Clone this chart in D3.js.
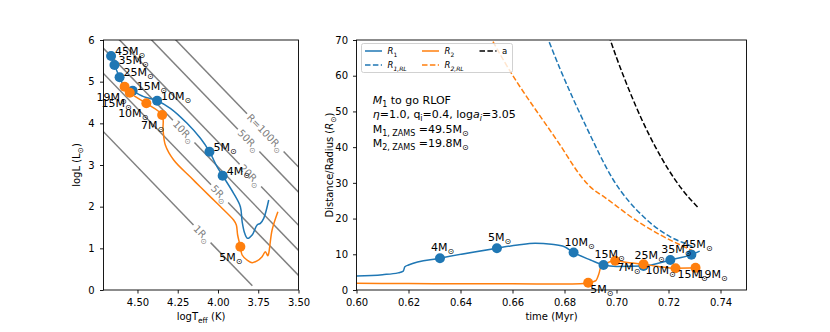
<!DOCTYPE html>
<html>
<head>
<meta charset="utf-8">
<script src="https://cdn.jsdelivr.net/npm/d3@7"></script>
<style>
  body { margin: 0; background: #fff; }
  text { font-family: "DejaVu Sans", sans-serif; }
</style>
</head>
<body>
<svg id="fig" width="830" height="332"></svg>
<script>
// ---- HR diagram data (logTeff, logL) ----
const hrTicksX = [4.5, 4.25, 4.0, 3.75, 3.5];
const hrTicksY = [0, 1, 2, 3, 4, 5, 6];
const radii = [1, 5, 10, 20, 50, 100];
const radiusLabels = ["1R", "5R", "10R", "20R", "50R", "R=100R"];
const radiusLabelT = [4.099, 3.99, 4.213, 3.799, 3.81, 3.706];

const primaryTrackHR = [
  [4.664, 5.616], [4.643, 5.40], [4.611, 5.105], [4.586, 4.92], [4.530, 4.78],
  [4.462, 4.64], [4.378, 4.543], [4.296, 4.36], [4.192, 4.0], [4.109, 3.64],
  [4.053, 3.32], [4.006, 2.96], [3.971, 2.744], [3.903, 2.32], [3.861, 2.0],
  [3.850, 1.64], [3.834, 1.36], [3.816, 1.24], [3.788, 1.32], [3.757, 1.56],
  [3.737, 1.60], [3.716, 1.72], [3.685, 2.16]
];
const secondaryTrackHR = [
  [4.580, 4.88], [4.548, 4.735], [4.445, 4.48], [4.347, 4.20], [4.341, 3.84],
  [4.327, 3.48], [4.275, 3.12], [4.171, 2.71], [4.109, 2.47], [4.006, 2.08],
  [3.903, 1.68], [3.886, 1.56], [3.878, 1.32], [3.861, 1.04], [3.850, 0.84],
  [3.820, 0.72], [3.788, 0.655], [3.757, 0.70], [3.726, 0.80], [3.706, 0.92],
  [3.691, 0.82], [3.685, 0.88], [3.664, 1.44], [3.628, 1.88]
];
const primaryMarkMasses = [45, 35, 25, 15, 10, 5, 4];
const primaryMarkT = [4.664, 4.643, 4.611, 4.530, 4.378, 4.053, 3.971];
const primaryMarkL = [5.616, 5.40, 5.105, 4.78, 4.543, 3.32, 2.744];
const secondaryMarkMasses = [19, 15, 10, 7, 5];
const secondaryMarkT = [4.580, 4.548, 4.445, 4.347, 3.861];
const secondaryMarkL = [4.88, 4.735, 4.48, 4.20, 1.04];

// ---- time evolution data (Myr, Rsun) ----
const timeTicks = [0.60, 0.62, 0.64, 0.66, 0.68, 0.70, 0.72, 0.74];
const radiusTicks = [0, 10, 20, 30, 40, 50, 60, 70];
const r1Series = [
  [0.600, 3.9], [0.610, 4.3], [0.616, 4.8], [0.6180, 5.3], [0.6186, 6.5],
  [0.620, 7.0], [0.6321, 8.9], [0.654, 11.7], [0.662, 12.6], [0.6687, 13.1],
  [0.675, 12.8], [0.680, 12.1], [0.6835, 10.5], [0.690, 8.4], [0.695, 7.0],
  [0.700, 6.6], [0.7104, 6.7], [0.7207, 8.4], [0.7288, 9.9], [0.7320, 10.9]
];
const r1RLSeries = [
  [0.6730, 71.5], [0.6783, 61.9], [0.6885, 45.5], [0.6988, 30.8],
  [0.7104, 20.5], [0.7207, 14.9], [0.7277, 12.6], [0.7292, 12.1]
];
const r2Series = [
  [0.600, 1.87], [0.620, 1.80], [0.640, 1.75], [0.660, 1.72], [0.680, 1.68],
  [0.686, 1.75], [0.6891, 2.04], [0.6920, 2.6], [0.6932, 4.5], [0.6940, 6.5],
  [0.6950, 7.0], [0.6995, 8.2], [0.7050, 7.6], [0.7104, 7.2], [0.7160, 6.6],
  [0.7227, 6.1], [0.7304, 6.2]
];
const r2RLSeries = [
  [0.6510, 71.5], [0.6565, 64.4], [0.6783, 40.6], [0.6867, 31.5],
  [0.6900, 28.8], [0.6950, 26.2], [0.7092, 18.7], [0.7169, 15.4],
  [0.7272, 11.7], [0.7304, 10.6]
];
const sepSeries = [
  [0.6960, 73.5], [0.7000, 65.1], [0.7050, 55.7], [0.7100, 47.3],
  [0.7150, 40.0], [0.7200, 33.7], [0.7250, 28.4], [0.7316, 22.9]
];
const r1MarkMasses = [4, 5, 10, 15, 25, 35, 45];
const r1MarkT = [0.6321, 0.654, 0.6835, 0.695, 0.7104, 0.7207, 0.7288];
const r1MarkV = [8.9, 11.7, 10.5, 7.0, 6.7, 8.4, 9.9];
const r2MarkMasses = [5, 7, 10, 15, 19];
const r2MarkT = [0.6891, 0.6995, 0.7104, 0.7227, 0.7304];
const r2MarkV = [2.04, 8.2, 7.2, 6.1, 6.2];

const blue = "#1f77b4";
const orange = "#ff7f0e";
const grey = "#808080";

const svg = d3.select("#fig");

// rich text helper: parts are [string, kind], kind in "", "i", "sub", "subi"
function rich(sel, parts, subSize) {
  let shifted = false;
  parts.forEach(([s, kind]) => {
    const t = sel.append("tspan").text(s);
    const isSub = kind === "sub" || kind === "subi";
    if (isSub && !shifted) { t.attr("dy", 3); shifted = true; }
    else if (!isSub && shifted) { t.attr("dy", -3); shifted = false; }
    if (isSub) t.attr("font-size", subSize);
    if (kind === "i" || kind === "subi") t.attr("font-style", "italic");
  });
  return sel;
}

function massLabel(g, x, y, m, anchor) {
  const t = g.append("text").attr("x", x).attr("y", y)
    .attr("font-size", 11).attr("text-anchor", anchor || "start");
  rich(t, [[m + "M", ""], ["⊙", "sub"]], 8);
}

function frame(g, x0, x1, y0, y1) {
  g.append("rect").attr("x", x0).attr("y", y0)
    .attr("width", x1 - x0).attr("height", y1 - y0)
    .attr("fill", "none").attr("stroke", "#000").attr("stroke-width", 0.9);
}

function styleAxis(a) {
  a.select(".domain").remove();
  a.attr("font-family", "DejaVu Sans, sans-serif").attr("font-size", 10);
  a.selectAll("line").attr("stroke-width", 0.9);
  a.selectAll("text").attr("fill", "#000");
}

// ================= left panel: HR diagram =================
const L = { x0: 103.5, x1: 298.5, y0: 40, y1: 290 };
const xHR = d3.scaleLinear().domain([4.711, 3.5]).range([L.x0, L.x1]);
const yHR = d3.scaleLinear().domain([0, 6]).range([L.y1, L.y0]);

svg.append("clipPath").attr("id", "clipL").append("rect")
  .attr("x", L.x0).attr("y", L.y0).attr("width", L.x1 - L.x0).attr("height", L.y1 - L.y0);
const gL = svg.append("g");
const plotL = gL.append("g").attr("clip-path", "url(#clipL)");

// constant-radius lines with inline labels
const logTsun = 3.7617;
radii.forEach((R, i) => {
  const lum = (T) => 2 * Math.log10(R) + 4 * (T - logTsun);
  const tLo = Math.max(3.49, logTsun + (0.1 - 2 * Math.log10(R)) / 4);
  const tHi = 4.72;
  const pA = [xHR(tHi), yHR(lum(tHi))];
  const pB = [xHR(tLo), yHR(lum(tLo))];
  const c = [xHR(radiusLabelT[i]), yHR(lum(radiusLabelT[i]))];
  const dx = pB[0] - pA[0], dy = pB[1] - pA[1];
  const len = Math.hypot(dx, dy);
  const u = [dx / len, dy / len];
  const ang = Math.atan2(dy, dx) * 180 / Math.PI;

  const lbl = gL.append("text")
    .attr("transform", `translate(${c[0]},${c[1]}) rotate(${ang})`)
    .attr("x", 0).attr("y", 3.5)
    .attr("text-anchor", "middle").attr("font-size", 10).attr("fill", grey);
  rich(lbl, [[radiusLabels[i], ""], ["⊙", "sub"]], 7.5);
  const half = lbl.node().getBBox().width / 2 + 2.5;

  const segs = [
    [pA, [c[0] - u[0] * half, c[1] - u[1] * half]],
    [[c[0] + u[0] * half, c[1] + u[1] * half], pB]
  ];
  segs.forEach(([a, b]) => {
    plotL.append("line")
      .attr("x1", a[0]).attr("y1", a[1]).attr("x2", b[0]).attr("y2", b[1])
      .attr("stroke", grey).attr("stroke-width", 1.5);
  });
});

const lineHR = d3.line().x((d) => xHR(d[0])).y((d) => yHR(d[1])).curve(d3.curveMonotoneY);
const lineHRp = d3.line().x((d) => xHR(d[0])).y((d) => yHR(d[1])).curve(d3.curveCatmullRom);
plotL.append("path").datum(primaryTrackHR).attr("d", lineHRp)
  .attr("fill", "none").attr("stroke", blue).attr("stroke-width", 1.5);
plotL.append("path").datum(secondaryTrackHR).attr("d", lineHRp)
  .attr("fill", "none").attr("stroke", orange).attr("stroke-width", 1.5);

primaryMarkMasses.forEach((m, i) => {
  plotL.append("circle").attr("cx", xHR(primaryMarkT[i])).attr("cy", yHR(primaryMarkL[i]))
    .attr("r", 5).attr("fill", blue);
});
secondaryMarkMasses.forEach((m, i) => {
  plotL.append("circle").attr("cx", xHR(secondaryMarkT[i])).attr("cy", yHR(secondaryMarkL[i]))
    .attr("r", 5).attr("fill", orange);
});
primaryMarkMasses.forEach((m, i) => {
  massLabel(gL, xHR(primaryMarkT[i]) + 4, yHR(primaryMarkL[i]) - 1, m, "start");
});
secondaryMarkMasses.forEach((m, i) => {
  massLabel(gL, xHR(secondaryMarkT[i]) + 2, yHR(secondaryMarkL[i]) + 14, m, "end");
});

frame(gL, L.x0, L.x1, L.y0, L.y1);
const axLx = gL.append("g").attr("transform", `translate(0,${L.y1})`)
  .call(d3.axisBottom(xHR).tickValues(hrTicksX).tickSize(3.5).tickPadding(5.5).tickFormat(d3.format(".2f")));
styleAxis(axLx);
const axLy = gL.append("g").attr("transform", `translate(${L.x0},0)`)
  .call(d3.axisLeft(yHR).tickValues(hrTicksY).tickSize(3.5).tickPadding(5.5).tickFormat(d3.format("d")));
styleAxis(axLy);

const xlabL = gL.append("text").attr("x", (L.x0 + L.x1) / 2).attr("y", 319.5)
  .attr("text-anchor", "middle").attr("font-size", 10);
rich(xlabL, [["logT", ""], ["eff", "sub"], [" (K)", ""]], 7.5);
const ylabL = gL.append("text").attr("transform", `translate(79.5,${(L.y0 + L.y1) / 2}) rotate(-90)`)
  .attr("text-anchor", "middle").attr("font-size", 10);
rich(ylabL, [["logL (L", ""], ["⊙", "sub"], [")", ""]], 7.5);

// ================= right panel: radii vs time =================
const P = { x0: 356.5, x1: 746.5, y0: 40, y1: 290 };
const xT = d3.scaleLinear().domain([0.6, 0.75]).range([P.x0, P.x1]);
const yR = d3.scaleLinear().domain([0, 70]).range([P.y1, P.y0]);

svg.append("clipPath").attr("id", "clipR").append("rect")
  .attr("x", P.x0).attr("y", P.y0).attr("width", P.x1 - P.x0).attr("height", P.y1 - P.y0);
const gR = svg.append("g");
const plotR = gR.append("g").attr("clip-path", "url(#clipR)");

const lineT = d3.line().x((d) => xT(d[0])).y((d) => yR(d[1])).curve(d3.curveMonotoneX);
const series = [
  { data: r1Series, color: blue, dash: null },
  { data: r1RLSeries, color: blue, dash: "5.5,2.4" },
  { data: r2Series, color: orange, dash: null },
  { data: r2RLSeries, color: orange, dash: "5.5,2.4" },
  { data: sepSeries, color: "#000", dash: "5.5,2.4" }
];
series.forEach((s) => {
  plotR.append("path").datum(s.data).attr("d", lineT)
    .attr("fill", "none").attr("stroke", s.color).attr("stroke-width", 1.5)
    .attr("stroke-dasharray", s.dash);
});

r1MarkMasses.forEach((m, i) => {
  plotR.append("circle").attr("cx", xT(r1MarkT[i])).attr("cy", yR(r1MarkV[i]))
    .attr("r", 5).attr("fill", blue);
});
r2MarkMasses.forEach((m, i) => {
  plotR.append("circle").attr("cx", xT(r2MarkT[i])).attr("cy", yR(r2MarkV[i]))
    .attr("r", 5).attr("fill", orange);
});
r1MarkMasses.forEach((m, i) => {
  massLabel(gR, xT(r1MarkT[i]) - 9, yR(r1MarkV[i]) - 7, m, "start");
});
r2MarkMasses.forEach((m, i) => {
  massLabel(gR, xT(r2MarkT[i]) + 2, yR(r2MarkV[i]) + 10, m, "start");
});

frame(gR, P.x0, P.x1, P.y0, P.y1);
const axRx = gR.append("g").attr("transform", `translate(0,${P.y1})`)
  .call(d3.axisBottom(xT).tickValues(timeTicks).tickSize(3.5).tickPadding(5.5).tickFormat(d3.format(".2f")));
styleAxis(axRx);
const axRy = gR.append("g").attr("transform", `translate(${P.x0},0)`)
  .call(d3.axisLeft(yR).tickValues(radiusTicks).tickSize(3.5).tickPadding(5).tickFormat(d3.format("d")));
styleAxis(axRy);

gR.append("text").attr("x", (P.x0 + P.x1) / 2).attr("y", 319.5)
  .attr("text-anchor", "middle").attr("font-size", 10).text("time (Myr)");
const ylabR = gR.append("text").attr("transform", `translate(333,${(P.y0 + P.y1) / 2}) rotate(-90)`)
  .attr("text-anchor", "middle").attr("font-size", 10);
rich(ylabR, [["Distance/Radius (", ""], ["R", "i"], ["⊙", "sub"], [")", ""]], 7.5);

// legend
const leg = gR.append("g");
leg.append("rect").attr("x", 361.5).attr("y", 43.5).attr("width", 151).attr("height", 29)
  .attr("rx", 2).attr("fill", "#fff").attr("fill-opacity", 0.8)
  .attr("stroke", "#cccccc").attr("stroke-width", 0.9);
const legItems = [
  { x: 365, y: 51, color: blue, dash: null, label: [["R", "i"], ["1", "sub"]] },
  { x: 365, y: 65, color: blue, dash: "5.5,2.4", label: [["R", "i"], ["1,RL", "subi"]] },
  { x: 422, y: 51, color: orange, dash: null, label: [["R", "i"], ["2", "sub"]] },
  { x: 422, y: 65, color: orange, dash: "5.5,2.4", label: [["R", "i"], ["2,RL", "subi"]] },
  { x: 479.5, y: 51, color: "#000", dash: "5.5,2.4", label: [["a", ""]] }
];
legItems.forEach((it) => {
  leg.append("line").attr("x1", it.x).attr("x2", it.x + 17).attr("y1", it.y).attr("y2", it.y)
    .attr("stroke", it.color).attr("stroke-width", 1.5).attr("stroke-dasharray", it.dash);
  const t = leg.append("text").attr("x", it.x + 22.5).attr("y", it.y + 3).attr("font-size", 8.5);
  rich(t, it.label, 6);
});

// annotation
const noteX = 372.7;
const note1 = gR.append("text").attr("x", noteX).attr("y", 104).attr("font-size", 11);
rich(note1, [["M", "i"], ["1", "sub"], [" to go RLOF", ""]], 8);
const note2 = gR.append("text").attr("x", noteX).attr("y", 118.3).attr("font-size", 11);
rich(note2, [["η", "i"], ["=1.0, q", ""], ["i", "sub"], ["=0.4, log", ""], ["a", "i"], ["i", "subi"], ["=3.05", ""]], 8);
const note3 = gR.append("text").attr("x", noteX).attr("y", 132.6).attr("font-size", 11);
rich(note3, [["M", ""], ["1, ZAMS", "sub"], [" =49.5M", ""], ["⊙", "sub"]], 8);
const note4 = gR.append("text").attr("x", noteX).attr("y", 146.9).attr("font-size", 11);
rich(note4, [["M", ""], ["2, ZAMS", "sub"], [" =19.8M", ""], ["⊙", "sub"]], 8);
</script>
</body>
</html>
